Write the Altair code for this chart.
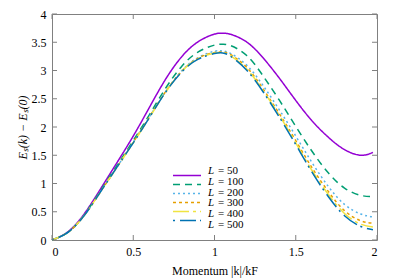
import altair as alt
import pandas as pd

# ---- data ----
k = [0, 0.1, 0.2, 0.3, 0.4, 0.5, 0.6, 0.7, 0.8, 0.9, 1.0, 1.05, 1.1, 1.2, 1.3, 1.4, 1.5, 1.6, 1.7, 1.8, 1.9, 1.975]

L50 = [0, 0.15, 0.47, 0.91, 1.37, 1.84, 2.35, 2.85, 3.25, 3.51, 3.645, 3.66, 3.64, 3.50, 3.22, 2.86, 2.47, 2.11, 1.82, 1.60, 1.50, 1.55]
L100 = [0, 0.14, 0.45, 0.88, 1.32, 1.76, 2.22, 2.69, 3.08, 3.33, 3.45, 3.465, 3.44, 3.26, 2.90, 2.47, 2.01, 1.57, 1.19, 0.92, 0.79, 0.77]
L200 = [0, 0.14, 0.44, 0.86, 1.29, 1.73, 2.18, 2.63, 3.00, 3.23, 3.34, 3.345, 3.30, 3.09, 2.73, 2.30, 1.84, 1.37, 0.95, 0.63, 0.46, 0.41]
L300 = [0, 0.14, 0.44, 0.86, 1.29, 1.73, 2.18, 2.63, 2.99, 3.22, 3.32, 3.325, 3.28, 3.05, 2.67, 2.23, 1.76, 1.28, 0.86, 0.52, 0.34, 0.30]
L400 = [0, 0.14, 0.44, 0.86, 1.29, 1.72, 2.17, 2.62, 2.99, 3.21, 3.31, 3.315, 3.26, 3.02, 2.64, 2.20, 1.72, 1.23, 0.81, 0.47, 0.28, 0.23]
L500 = [0, 0.14, 0.44, 0.86, 1.29, 1.72, 2.17, 2.62, 2.98, 3.20, 3.30, 3.31, 3.25, 3.00, 2.62, 2.17, 1.69, 1.20, 0.77, 0.43, 0.24, 0.18]

series = ["50", "100", "200", "300", "400", "500"]
values = [L50, L100, L200, L300, L400, L500]
colors = ["#9400d3", "#009e73", "#56b4e9", "#e69f00", "#f0e442", "#0072b2"]
dashes = [[1, 0], [7, 5], [2, 3], [3, 3], [16, 4, 3, 4], [2, 5, 16, 4]]

x_ticks = [0, 0.5, 1, 1.5, 2]
y_ticks = [0, 0.5, 1, 1.5, 2, 2.5, 3, 3.5, 4]

rows = []
for name, vals in zip(series, values):
    for kk, v in zip(k, vals):
        rows.append({"k": kk, "E": v, "L": name})
df = pd.DataFrame(rows)

leg_df = pd.DataFrame({"L": series, "rest": ["= " + s for s in series]})
xt_df = pd.DataFrame({"t": x_ticks})
yt_df = pd.DataFrame({"t": y_ticks})

W, H = 325, 226
GRAY = "#808080"
FONT = "Liberation Serif"

xs = alt.Scale(domain=[0, 2], nice=False, zero=False)
ys = alt.Scale(domain=[0, 4], nice=False, zero=False)
cs = alt.Scale(domain=series, range=colors)
ds = alt.Scale(domain=series, range=dashes)
ls = alt.Scale(domain=series, range=[157, 211], padding=0)

x_axis = alt.Axis(
    values=x_ticks, format="~g", title="Momentum |k|/kF",
    titleX=W / 2, titleY=30, titleBaseline="middle", titleAlign="center",
    labelFont=FONT, titleFont=FONT)

lines = alt.Chart(df).mark_line(strokeWidth=1.5, interpolate="natural").encode(
    x=alt.X("k:Q", scale=xs, axis=x_axis),
    y=alt.Y("E:Q", scale=ys, axis=alt.Axis(
        values=y_ticks, format="~g", title="Eₛ(k) − Eₛ(0)",
        titleX=-30, titleY=H / 2, titleAngle=-90, titleBaseline="middle",
        titleAlign="center", titleFontStyle="italic",
        labelFont=FONT, titleFont=FONT)),
    color=alt.Color("L:N", scale=cs, legend=None),
    strokeDash=alt.StrokeDash("L:N", scale=ds, legend=None),
)

tick_b = alt.Chart(xt_df).mark_rule(color=GRAY, strokeWidth=1).encode(
    x=alt.X("t:Q", scale=xs, axis=x_axis), y=alt.value(H), y2=alt.value(H - 5))
tick_t = alt.Chart(xt_df).mark_rule(color=GRAY, strokeWidth=1).encode(
    x=alt.X("t:Q", scale=xs, axis=x_axis), y=alt.value(0), y2=alt.value(5))
tick_l = alt.Chart(yt_df).mark_rule(color=GRAY, strokeWidth=1).encode(
    y=alt.Y("t:Q", scale=ys, axis=None), x=alt.value(0), x2=alt.value(5))
tick_r = alt.Chart(yt_df).mark_rule(color=GRAY, strokeWidth=1).encode(
    y=alt.Y("t:Q", scale=ys, axis=None), x=alt.value(W), x2=alt.value(W - 5))

leg_lines = alt.Chart(leg_df).mark_rule(strokeWidth=1.5).encode(
    x=alt.value(121), x2=alt.value(149),
    y=alt.Y("L:N", scale=ls, axis=None),
    color=alt.Color("L:N", scale=cs, legend=None),
    strokeDash=alt.StrokeDash("L:N", scale=ds, legend=None),
)
leg_L = alt.Chart(leg_df).mark_text(
    align="left", baseline="middle", font=FONT, fontSize=11, fontStyle="italic", color="black"
).encode(x=alt.value(156), y=alt.Y("L:N", scale=ls, axis=None), text=alt.value("L"))
leg_rest = alt.Chart(leg_df).mark_text(
    align="left", baseline="middle", font=FONT, fontSize=11, color="black"
).encode(x=alt.value(166), y=alt.Y("L:N", scale=ls, axis=None), text="rest:N")

chart = alt.layer(
    lines, tick_b, tick_t, tick_l, tick_r, leg_lines, leg_L, leg_rest
).resolve_scale(y="independent").properties(
    width=W, height=H,
    autosize=alt.AutoSizeParams(type="none"),
    padding={"left": 44, "top": 6, "right": 14, "bottom": 40},
).configure(
    font=FONT
).configure_view(
    stroke=GRAY, strokeWidth=1
).configure_axis(
    domain=False, grid=False, ticks=False, tickSize=0,
    labelFont=FONT, labelFontSize=12, labelColor="black", labelPadding=6,
    titleFont=FONT, titleFontSize=12, titleColor="black", titleFontWeight="normal",
)

chart.save("out.html", embed_options={"renderer": "svg", "actions": False})
